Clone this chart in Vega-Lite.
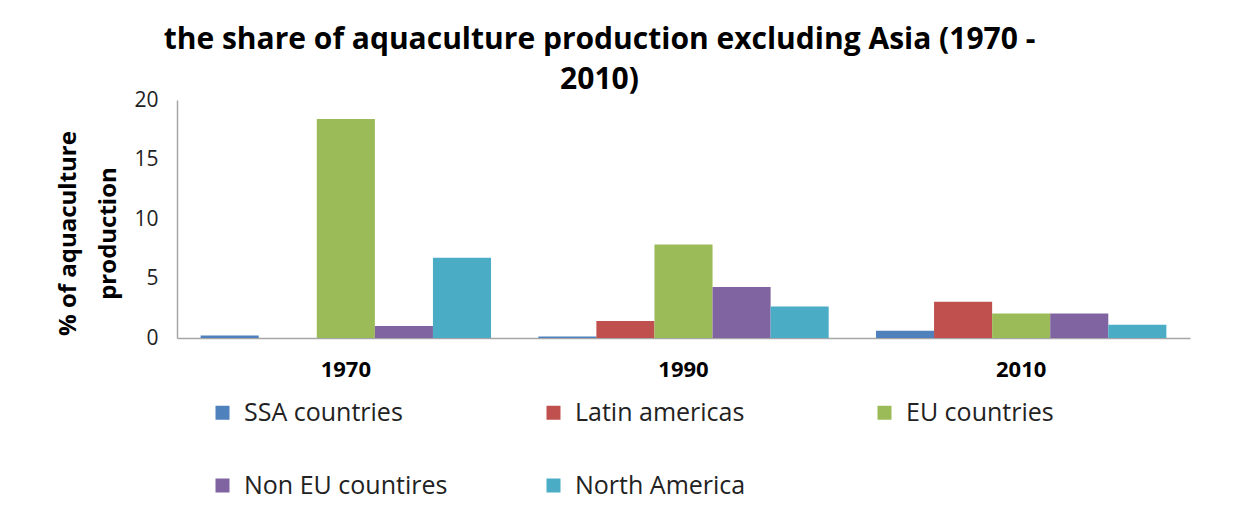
{
  "$schema": "https://vega.github.io/schema/vega-lite/v6.json",
  "autosize": {"type": "none"},
  "width": 1013,
  "height": 238,
  "padding": {"left": 177, "top": 100, "right": 55, "bottom": 183},
  "background": "white",
  "title": {
    "text": ["the share of aquaculture production excluding Asia (1970 -", "2010)"],
    "anchor": "middle",
    "frame": "group",
    "dx": -84,
    "dy": 24,
    "offset": 18,
    "fontSize": 30,
    "fontWeight": "bold",
    "font": "Open Sans",
    "lineHeight": 40,
    "color": "#000000"
  },
  "data": {
    "values": [
      {"year": "1970", "region": "SSA countries", "share": 0.22},
      {"year": "1970", "region": "Latin americas", "share": 0},
      {"year": "1970", "region": "EU countries", "share": 18.4},
      {"year": "1970", "region": "Non EU countires", "share": 1.0},
      {"year": "1970", "region": "North America", "share": 6.75},
      {"year": "1990", "region": "SSA countries", "share": 0.12},
      {"year": "1990", "region": "Latin americas", "share": 1.42},
      {"year": "1990", "region": "EU countries", "share": 7.85},
      {"year": "1990", "region": "Non EU countires", "share": 4.28},
      {"year": "1990", "region": "North America", "share": 2.65},
      {"year": "2010", "region": "SSA countries", "share": 0.6},
      {"year": "2010", "region": "Latin americas", "share": 3.05},
      {"year": "2010", "region": "EU countries", "share": 2.05},
      {"year": "2010", "region": "Non EU countires", "share": 2.05},
      {"year": "2010", "region": "North America", "share": 1.12}
    ]
  },
  "mark": {"type": "bar"},
  "encoding": {
    "x": {
      "field": "year",
      "type": "nominal",
      "scale": {"paddingInner": 0.14, "paddingOuter": 0.07},
      "axis": {
        "title": null,
        "labelAngle": 0,
        "labelFontSize": 22,
        "labelFontWeight": "bold",
        "labelFont": "Open Sans",
        "labelColor": "#000000",
        "labelPadding": 21,
        "domainColor": "#a6a6a6",
        "domainWidth": 1.5,
        "ticks": false
      }
    },
    "xOffset": {
      "field": "region",
      "type": "nominal",
      "sort": ["SSA countries", "Latin americas", "EU countries", "Non EU countires", "North America"]
    },
    "y": {
      "field": "share",
      "type": "quantitative",
      "scale": {"domain": [0, 20]},
      "axis": {
        "title": ["% of  aquaculture", "production"],
        "titleFontSize": 24,
        "titleFontWeight": "bold",
        "titleFont": "Open Sans",
        "titleColor": "#000000",
        "titleLineHeight": 40,
        "titlePadding": 13,
        "titleY": 133,
        "values": [0, 5, 10, 15, 20],
        "labelFontSize": 21,
        "labelFont": "Open Sans",
        "labelColor": "#222222",
        "labelPadding": 19,
        "grid": false,
        "ticks": false,
        "domainColor": "#a6a6a6",
        "domainWidth": 1.5
      }
    },
    "color": {
      "field": "region",
      "type": "nominal",
      "sort": ["SSA countries", "Latin americas", "EU countries", "Non EU countires", "North America"],
      "scale": {
        "domain": ["SSA countries", "Latin americas", "EU countries", "Non EU countires", "North America"],
        "range": ["#4F81BD", "#C0504D", "#9BBB59", "#8064A2", "#4BACC6"]
      },
      "legend": {
        "title": null,
        "orient": "none",
        "legendX": 33,
        "legendY": 300,
        "direction": "horizontal",
        "columns": 3,
        "gridAlign": "all",
        "symbolType": "square",
        "symbolSize": 196,
        "symbolStrokeWidth": 0,
        "labelFontSize": 25,
        "labelFont": "Open Sans",
        "labelColor": "#222222",
        "labelOffset": 9,
        "columnPadding": 93,
        "rowPadding": 47,
        "labelLimit": 400
      }
    }
  },
  "config": {
    "view": {"stroke": null}
  }
}
